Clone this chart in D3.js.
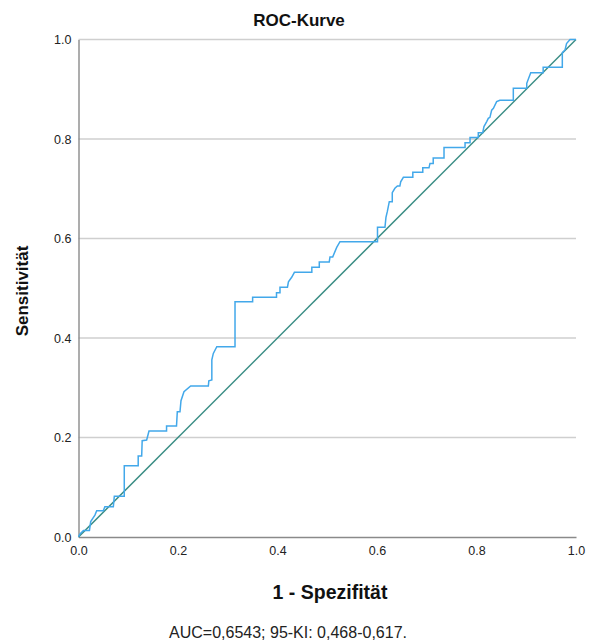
<!DOCTYPE html>
<html>
<head>
<meta charset="utf-8">
<script src="https://cdn.jsdelivr.net/npm/d3@7"></script>
<style>
  html, body { margin: 0; padding: 0; background: #fff; }
  svg { display: block; font-family: "Liberation Sans", Arial, sans-serif; }
</style>
</head>
<body>
<svg id="chart" width="589" height="644"></svg>
<script>
// ROC curve vertices (1 - specificity, sensitivity)
const fpr = [0, 0.003, 0.010, 0.022, 0.0245, 0.033, 0.0366, 0.050, 0.053, 0.070, 0.072, 0.092, 0.092, 0.120, 0.120, 0.127, 0.128, 0.137, 0.1417, 0.177, 0.177, 0.197, 0.1986, 0.204, 0.206, 0.212, 0.2255, 0.261, 0.262, 0.268, 0.268, 0.271, 0.278, 0.3146, 0.3146, 0.350, 0.350, 0.398, 0.398, 0.405, 0.405, 0.420, 0.422, 0.4285, 0.434, 0.469, 0.469, 0.484, 0.484, 0.504, 0.5055, 0.511, 0.519, 0.5256, 0.601, 0.601, 0.616, 0.618, 0.6207, 0.6247, 0.6307, 0.6307, 0.636, 0.641, 0.646, 0.6476, 0.653, 0.672, 0.672, 0.692, 0.692, 0.7045, 0.7065, 0.713, 0.713, 0.7347, 0.7347, 0.777, 0.777, 0.787, 0.787, 0.8036, 0.8036, 0.8125, 0.815, 0.8205, 0.8237, 0.827, 0.8305, 0.834, 0.8405, 0.847, 0.874, 0.874, 0.901, 0.901, 0.909, 0.934, 0.934, 0.9725, 0.9725, 0.978, 0.981, 0.988, 0.998, 1];
const tpr = [0, 0.006, 0.013, 0.013, 0.031, 0.044, 0.053, 0.053, 0.061, 0.061, 0.082, 0.082, 0.143, 0.143, 0.163, 0.163, 0.1936, 0.195, 0.213, 0.213, 0.223, 0.223, 0.252, 0.252, 0.274, 0.292, 0.3035, 0.3035, 0.314, 0.3156, 0.356, 0.369, 0.3826, 0.3826, 0.473, 0.473, 0.482, 0.482, 0.491, 0.491, 0.502, 0.502, 0.513, 0.522, 0.532, 0.532, 0.542, 0.542, 0.553, 0.553, 0.563, 0.563, 0.582, 0.5935, 0.5935, 0.6225, 0.6225, 0.6426, 0.654, 0.674, 0.674, 0.692, 0.701, 0.7055, 0.7055, 0.714, 0.723, 0.723, 0.733, 0.733, 0.742, 0.742, 0.751, 0.751, 0.762, 0.762, 0.783, 0.783, 0.7926, 0.7926, 0.803, 0.803, 0.8127, 0.8127, 0.825, 0.835, 0.8416, 0.8436, 0.858, 0.8617, 0.875, 0.878, 0.878, 0.902, 0.902, 0.912, 0.933, 0.933, 0.944, 0.944, 0.9735, 0.979, 0.992, 1.0, 1.0, 1];
// reference (chance) diagonal
const refX = [0, 1];
const refY = [0, 1];
// ticks
const xTicks = [0, 0.2, 0.4, 0.6, 0.8, 1.0];
const yTicks = [0, 0.2, 0.4, 0.6, 0.8, 1.0];
const yGrid = [0.2, 0.4, 0.6, 0.8, 1.0];
// texts
const titleText = "ROC-Kurve";
const xTitle = "1 - Spezifität";
const yTitle = "Sensitivität";
const noteText = "AUC=0,6543; 95-KI: 0,468-0,617.";

(function () {
const svg = d3.select("#chart");
const mLeft = 78.5, mRight = 576, mTop = 39.5, mBottom = 537;

const x = d3.scaleLinear().domain([0, 1]).range([mLeft, mRight]);
const y = d3.scaleLinear().domain([0, 1]).range([mBottom, mTop]);

// grid lines
svg.append("g").selectAll("line").data(yGrid).join("line")
  .attr("x1", mLeft).attr("x2", mRight)
  .attr("y1", d => y(d)).attr("y2", d => y(d))
  .attr("stroke", "#cfcfcf").attr("stroke-width", 1.4);

// axes
const xAxis = d3.axisBottom(x).tickValues(xTicks).tickFormat(d3.format(".1f")).tickSize(0).tickPadding(9);
const yAxis = d3.axisLeft(y).tickValues(yTicks).tickFormat(d3.format(".1f")).tickSize(0).tickPadding(7);

const gx = svg.append("g").attr("transform", `translate(0,${mBottom})`).call(xAxis);
const gy = svg.append("g").attr("transform", `translate(${mLeft},0)`).call(yAxis);
[gx, gy].forEach(g => {
  g.select(".domain").attr("stroke", "#8a8a8a").attr("stroke-width", 1.4);
  g.selectAll("text").attr("fill", "#222").style("font-size", "12.5px")
    .style("font-family", "'Liberation Sans', Arial, sans-serif");
});

// diagonal
const refData = refX.map((v, i) => [v, refY[i]]);
svg.append("path").datum(refData)
  .attr("d", d3.line().x(d => x(d[0])).y(d => y(d[1])))
  .attr("fill", "none").attr("stroke", "#3a8d84").attr("stroke-width", 1.5);

// ROC curve
const rocData = fpr.map((v, i) => [v, tpr[i]]);
svg.append("path").datum(rocData)
  .attr("d", d3.line().x(d => x(d[0])).y(d => y(d[1])))
  .attr("fill", "none").attr("stroke", "#42a8ea").attr("stroke-width", 1.5)
  .attr("stroke-linejoin", "miter");

// title
svg.append("text").attr("x", 299).attr("y", 26).attr("text-anchor", "middle")
  .style("font-size", "17px").style("font-weight", "bold").attr("fill", "#111")
  .text(titleText);

// x-axis title
svg.append("text").attr("x", 330).attr("y", 599).attr("text-anchor", "middle")
  .style("font-size", "19.5px").style("font-weight", "bold").attr("fill", "#111")
  .text(xTitle);

// y-axis title
svg.append("text").attr("transform", "translate(28,291) rotate(-90)").attr("text-anchor", "middle")
  .style("font-size", "17px").style("font-weight", "bold").attr("fill", "#111")
  .text(yTitle);

// note
svg.append("text").attr("x", 288).attr("y", 638).attr("text-anchor", "middle")
  .style("font-size", "16px").attr("fill", "#222")
  .text(noteText);
})();
</script>
</body>
</html>
